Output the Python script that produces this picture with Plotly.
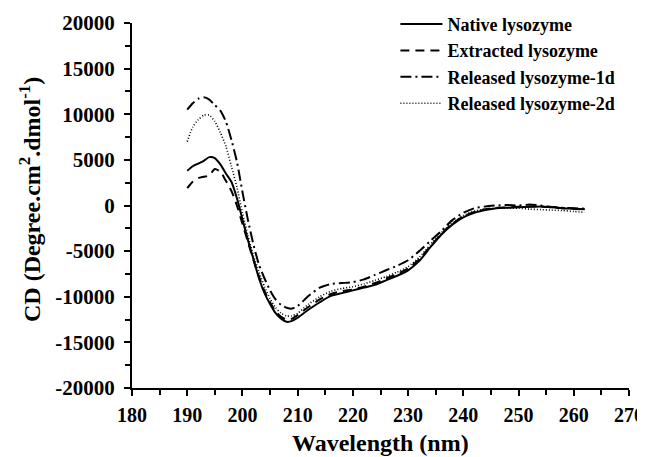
import plotly.graph_objects as go

wavelength = [190, 191, 192, 193, 194, 195, 196, 197, 198, 199, 200, 201, 202, 203, 204, 205,
              206, 207, 208, 209, 210, 212, 214, 216, 218, 220, 222, 224, 226, 228, 230, 232,
              234, 236, 238, 240, 242, 244, 246, 248, 250, 252, 254, 256, 258, 260, 262]

native = [3800, 4300, 4600, 4900, 5300, 5200, 4500, 3500, 2600, 800, -1500, -3800, -5900, -8000,
          -9600, -10800, -11800, -12400, -12750, -12650, -12300, -11400, -10600, -9900, -9600,
          -9300, -9000, -8700, -8200, -7700, -7100, -6100, -4600, -3200, -2100, -1300, -800,
          -500, -300, -250, -200, -150, -100, -200, -300, -350, -400]

extracted = [1900, 2600, 3000, 3150, 3300, 4000, 3700, 2700, 1600, 0, -2000, -4000, -6000,
             -7800, -9400, -10600, -11600, -12200, -12500, -12400, -12000, -11100, -10300,
             -9700, -9400, -9200, -8900, -8500, -8000, -7500, -6900, -5900, -4500, -3100,
             -2000, -1200, -700, -400, -250, -200, -150, -100, -100, -200, -300, -350, -450]

released_1d = [10500, 11200, 11700, 11850, 11600, 11000, 10400, 9200, 7200, 4800, 1500, -1600,
               -4300, -6500, -8000, -9300, -10300, -10900, -11200, -11300, -11000, -9900, -9000,
               -8600, -8500, -8400, -8100, -7600, -7100, -6600, -6000, -5000, -3900, -2800,
               -1600, -800, -300, -100, 0, 50, 0, 100, 0, -150, -250, -300, -350]

released_2d = [7000, 8600, 9400, 9900, 9900, 9200, 8000, 6500, 4300, 2000, -800, -3300, -5500,
               -7300, -8900, -10200, -11200, -11800, -12100, -12100, -11800, -10800, -10000,
               -9400, -9100, -8900, -8600, -8200, -7800, -7300, -6700, -5700, -4300, -3000,
               -1900, -1100, -600, -400, -300, -300, -300, -400, -450, -500, -550, -650, -750]

series_names = ["Native lysozyme", "Extracted lysozyme", "Released lysozyme-1d", "Released lysozyme-2d"]
series_values = [native, extracted, released_1d, released_2d]
dashes = ["solid", "9px,6px", "11px,4px,2px,4px", "1px,2px"]
widths = [2, 2, 2, 1.6]

x_ticks = [180, 190, 200, 210, 220, 230, 240, 250, 260, 270]
y_ticks = [-20000, -15000, -10000, -5000, 0, 5000, 10000, 15000, 20000]

FONT = "Liberation Serif, Times New Roman, serif"

fig = go.Figure()
for name, vals, dash, w in zip(series_names, series_values, dashes, widths):
    fig.add_trace(go.Scatter(x=wavelength, y=vals, mode="lines", name="<b>" + name + "</b>",
                             line=dict(color="black", width=w, dash=dash, shape="spline", smoothing=0.6)))

axis_common = dict(showgrid=False, zeroline=False, showline=True, linecolor="black", linewidth=2,
                   ticks="outside", tickcolor="black", tickwidth=2, ticklen=6,
                   ticklabeloverflow="allow")

fig.update_xaxes(range=[180, 270], tickvals=x_ticks, ticktext=["<b>%d</b>" % v for v in x_ticks],
                 ticklabelstandoff=2, tickfont=dict(family=FONT, size=20, color="black"),
                 minor=dict(dtick=5, tick0=180, ticks="outside", ticklen=5, tickwidth=2, tickcolor="black"),
                 **axis_common)
fig.update_yaxes(range=[-20000, 20000], tickvals=y_ticks, ticktext=["<b>%d</b>" % v for v in y_ticks],
                 ticklabelstandoff=5, tickfont=dict(family=FONT, size=21, color="black"),
                 minor=dict(dtick=2500, tick0=0, ticks="outside", ticklen=5, tickwidth=2, tickcolor="black"),
                 **axis_common)

# the page body adds an 8px offset; the figure is sized so the plot lands where the reference has it
fig.update_layout(
    width=637, height=449,
    margin=dict(l=124, r=16, t=15, b=69, autoexpand=False),
    paper_bgcolor="white", plot_bgcolor="white",
    showlegend=True,
    legend=dict(x=0.53, y=1.047, xanchor="left", yanchor="top", bgcolor="rgba(0,0,0,0)",
                font=dict(family=FONT, size=18, color="black"),
                itemwidth=42, tracegroupgap=0),
    annotations=[
        dict(text="<b>Wavelength (nm)</b>", xref="paper", yref="paper", x=0.5, y=-0.150,
             xanchor="center", yanchor="middle", showarrow=False,
             font=dict(family=FONT, size=24, color="black")),
        dict(text="<b>CD (Degree.cm<sup>2</sup>.dmol<sup>-1</sup>)</b>", xref="paper", yref="paper",
             x=(30 - 132) / 497, y=0.515, xanchor="center", yanchor="middle", textangle=-90,
             showarrow=False, font=dict(family=FONT, size=24, color="black")),
    ],
)

fig.write_html("out.html")
